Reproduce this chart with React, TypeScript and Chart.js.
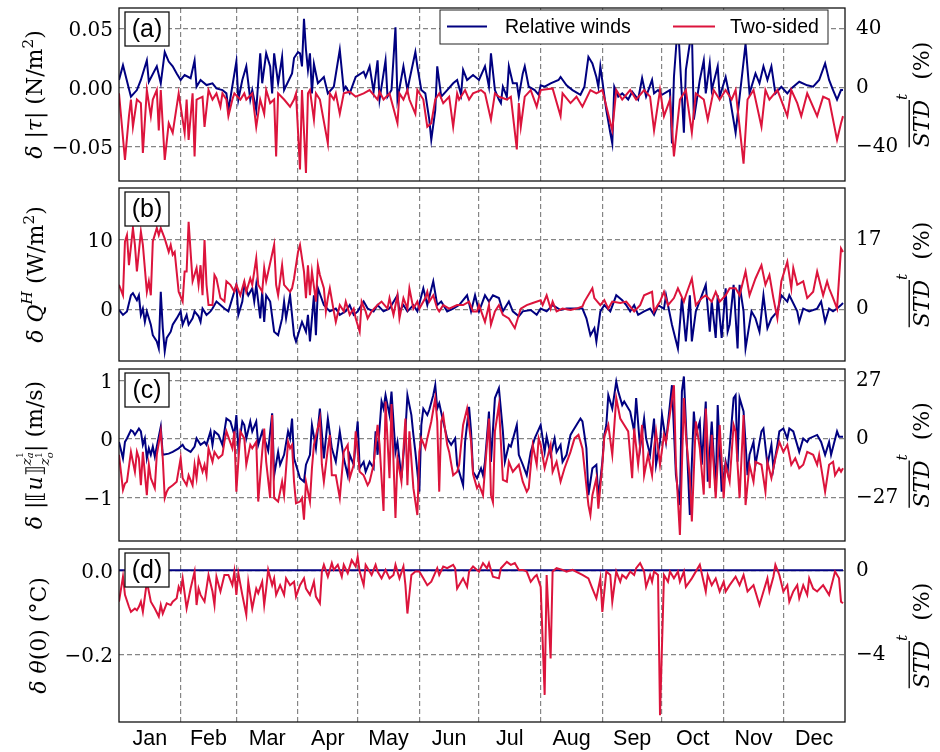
import React, { useEffect, useRef } from 'react';
import { Chart, registerables } from 'chart.js';

Chart.register(...registerables);

// ---------------------------------------------------------------------------
// Calendar axis
// ---------------------------------------------------------------------------
const MONTHS = ['Jan', 'Feb', 'Mar', 'Apr', 'May', 'Jun', 'Jul', 'Aug', 'Sep', 'Oct', 'Nov', 'Dec'];
const MONTH_STARTS = [0, 31, 59, 90, 120, 151, 181, 212, 243, 273, 304, 334, 365];

const SERIES = ['Relative winds', 'Two-sided'];
const COLORS = ['#000080', '#dc143c'];

type Pt = [number, number]; // [day of year, value]

// (a) wind stress magnitude difference, N/m^2
const tauRelative: Pt[] = [
  [0, 0.0065], [2, 0.019], [6, -0.0076], [9, -0.002], [11, 0.0065], [14, 0.023], [15, 0.005], [19, 0.018], [21, 0.0037], [23, 0.03],
  [25, 0.022], [27, 0.018], [29, 0.012], [31, 0.0065], [33, 0.0107], [36, 0.008], [38, 0.023], [39, 0.0008], [41, 0.0065], [44, 0.0022],
  [47, 0.0037], [49, -0.0006], [52, -0.002], [54, -0.0048], [55, -0.019], [59, 0.022], [60, -0.01], [62, 0.0065], [64, 0.018], [66, -0.01],
  [67, -0.002], [69, -0.019], [71, 0.029], [72, 0.0037], [74, 0.029], [76, 0.018], [77, -0.0048], [78, 0.029], [80, 0.0037], [82, 0.026],
  [83, -0.002], [87, 0.012], [88, 0.025], [90, 0.03], [91, 0.029], [92, 0.018], [93, 0.058], [94, 0.032], [95, 0.015], [96, 0.029],
  [97, -0.0048], [98, 0.02], [100, 0.0037], [103, 0.009], [105, -0.0048], [108, 0.0008], [111, 0.032], [113, -0.002], [114, 0.0008], [116, -0.0048],
  [119, 0.009], [123, 0.0135], [124, 0.009], [126, 0.018], [128, -0.0034], [130, 0.023], [131, -0.01], [134, 0.023], [135, -0.0076], [137, -0.002],
  [139, 0.051], [140, -0.01], [143, 0.018], [145, -0.002], [146, 0.0065], [149, 0.03], [150, 0.018], [152, -0.002], [154, -0.0048], [155, -0.016],
  [156, -0.027], [157, -0.044], [159, -0.019], [160, 0.018], [162, -0.0076], [165, -0.002], [168, 0.0037], [170, 0.0065], [172, -0.006], [173, 0.015],
  [175, 0.0065], [178, 0.0107], [181, 0.0065], [184, 0.018], [186, 0.0008], [187, 0.029], [189, -0.002], [191, -0.01], [192, -0.013], [193, 0.0008],
  [195, -0.0076], [196, 0.018], [198, 0.0037], [200, 0.0037], [201, -0.0076], [203, 0.012], [204, 0.018], [206, 0.0008], [209, -0.002], [211, -0.006],
  [212, 0.002], [214, 0.0008], [217, 0.0037], [221, 0.0065], [222, 0.009], [225, 0.002], [228, -0.002], [232, -0.006], [234, 0.0008], [236, 0.026],
  [238, 0.0205], [240, 0.009], [241, 0.0008], [242, 0.018], [245, -0.019], [247, -0.038], [248, -0.047], [249, 0.0008], [251, -0.0076], [253, -0.0048],
  [256, -0.01], [258, -0.0034], [261, -0.01], [263, 0.008], [265, -0.0076], [268, 0.0065], [269, -0.0048], [271, -0.002], [273, -0.006], [277, -0.002],
  [278, -0.047], [279, 0.009], [281, 0.055], [284, -0.038], [285, 0.015], [288, 0.049], [289, -0.027], [292, 0.0065], [294, 0.023], [295, -0.0048],
  [297, 0.0205], [298, -0.002], [301, 0.018], [302, -0.0076], [305, 0.009], [307, -0.0076], [310, -0.038], [315, 0.037], [317, -0.0048], [320, 0.012],
  [322, 0.0037], [324, 0.018], [326, 0.0065], [328, 0.018], [330, -0.0048], [333, 0.0008], [336, -0.0048], [338, -0.0006], [342, 0.005], [346, 0.002],
  [349, 0.0008], [352, 0.0065], [355, 0.0205], [357, 0.0065], [359, -0.002], [361, -0.01], [363, -0.002], [364, -0.002],
];
const tauTwoSided: Pt[] = [
  [0, -0.0048], [3, -0.061], [5, -0.024], [6, -0.01], [7, -0.033], [9, -0.01], [11, -0.013], [12, -0.055], [14, -0.002], [16, -0.024],
  [17, -0.01], [19, -0.002], [20, -0.036], [21, -0.002], [23, -0.061], [25, -0.03], [27, -0.038], [28, -0.027], [30, -0.0048], [31, -0.016],
  [33, -0.038], [34, -0.01], [35, -0.044], [37, -0.0048], [38, -0.058], [39, -0.01], [42, -0.0076], [43, -0.033], [45, -0.002], [47, -0.01],
  [49, -0.0048], [51, -0.016], [52, -0.0048], [54, -0.01], [55, -0.024], [57, -0.01], [58, -0.0048], [61, -0.01], [63, -0.0048], [64, -0.01],
  [67, -0.0048], [69, -0.033], [71, -0.01], [73, -0.022], [74, -0.002], [76, -0.013], [78, -0.01], [79, -0.058], [80, -0.0048], [83, -0.01],
  [86, -0.016], [88, -0.01], [89, -0.0048], [91, -0.069], [92, -0.002], [94, -0.072], [95, -0.0048], [96, -0.002], [98, -0.027], [99, -0.0048],
  [101, -0.01], [105, -0.047], [106, -0.0048], [108, -0.01], [109, -0.0048], [111, -0.022], [113, -0.0048], [116, -0.0034], [119, -0.0076], [123, -0.0048],
  [126, -0.002], [130, -0.01], [131, -0.0034], [133, -0.01], [136, -0.0048], [140, -0.03], [141, -0.0048], [143, -0.01], [145, -0.002], [146, -0.01],
  [149, -0.022], [150, -0.002], [153, -0.01], [155, -0.033], [157, -0.03], [159, -0.01], [161, -0.0048], [163, -0.013], [166, -0.0076], [168, -0.033],
  [170, -0.0048], [171, -0.01], [174, -0.002], [176, -0.01], [178, -0.0048], [182, -0.002], [184, -0.0048], [187, -0.027], [189, -0.0048], [191, -0.0076],
  [195, -0.01], [197, -0.0076], [200, -0.052], [201, -0.013], [202, -0.033], [204, -0.0076], [207, -0.002], [210, -0.016], [212, -0.002], [218, -0.0006],
  [222, -0.024], [223, -0.0048], [227, -0.013], [230, -0.0076], [233, -0.016], [237, -0.002], [240, -0.0048], [243, -0.002], [248, -0.036], [250, -0.002],
  [253, -0.01], [257, -0.002], [260, -0.01], [264, -0.002], [267, -0.0076], [269, -0.036], [272, -0.002], [274, -0.024], [277, -0.01], [279, -0.058],
  [282, -0.01], [285, -0.002], [288, -0.038], [290, -0.0048], [294, -0.01], [296, -0.027], [299, -0.002], [302, -0.01], [305, -0.002], [308, -0.01],
  [310, -0.002], [314, -0.064], [316, -0.01], [319, -0.002], [323, -0.033], [325, -0.002], [327, -0.01], [331, -0.002], [336, -0.024], [338, -0.002],
  [341, -0.013], [343, -0.024], [346, -0.0048], [351, -0.024], [354, -0.0076], [357, -0.01], [361, -0.044], [363, -0.03], [364, -0.024],
];

// (b) sensible heat flux difference, W/m^2
const heatRelative: Pt[] = [
  [0, -0.1], [2, -0.8], [4, -0.3], [6, 2.0], [7, 2.3], [9, 1.3], [10, 2.0], [11, -0.8], [12, 0.1], [13, -1.8],
  [14, -0.3], [16, -2.2], [17, -3.7], [19, -4.6], [20, -5.6], [21, 2.5], [22, -2.7], [23, -6.0], [24, -4.1], [26, -3.2],
  [27, -2.2], [29, -1.3], [31, -0.3], [32, -2.2], [34, -0.8], [35, -2.2], [37, -1.3], [38, -0.3], [40, -1.0], [41, -1.8],
  [42, 0.1], [44, -0.8], [46, -0.3], [47, 0.1], [49, 1.1], [51, 0.6], [53, 0.1], [55, -0.3], [59, 3.5], [60, -0.8],
  [62, 1.1], [63, 3.5], [65, 2.0], [67, 3.0], [68, 1.1], [69, 3.5], [71, -1.3], [72, 2.5], [73, -1.8], [74, 2.0],
  [76, 1.1], [78, -3.2], [80, -3.7], [82, -1.3], [83, 1.1], [84, -1.3], [86, 2.0], [88, -3.7], [89, -4.6], [91, -2.7],
  [92, -1.8], [94, -3.2], [95, -0.8], [96, -4.6], [98, 2.0], [99, -3.7], [100, 3.0], [103, 0.6], [106, -0.3], [109, 0.1],
  [111, -0.8], [114, -0.3], [116, 0.6], [118, -0.8], [120, -0.3], [123, 1.1], [125, 0.1], [128, -0.3], [130, 0.6], [133, -0.3],
  [136, 0.1], [140, 2.0], [141, -0.3], [143, 0.6], [145, -0.3], [148, 0.6], [150, -0.3], [153, 3.0], [155, 0.6], [158, 4.0],
  [160, 0.6], [162, 1.1], [165, -0.3], [168, 0.1], [171, 0.6], [175, 2.0], [177, -0.3], [179, 2.0], [181, -0.3], [184, 2.0],
  [186, 1.1], [188, 2.0], [191, 1.6], [193, -0.3], [196, 1.1], [198, -0.3], [201, -1.0], [203, -0.3], [207, -0.1], [210, -0.8],
  [212, 0.1], [215, -0.3], [218, 0.6], [222, -0.1], [225, 0.1], [230, 0.1], [233, 0.1], [235, -1.3], [237, -3.7], [239, -2.7],
  [240, -4.6], [242, -0.3], [244, 0.6], [247, -0.3], [250, 2.0], [253, 1.3], [255, 0.6], [257, -0.3], [259, 0.6], [261, -0.8],
  [264, -0.3], [267, 0.1], [269, -0.8], [271, 0.6], [274, 0.1], [275, 2.0], [278, -2.2], [281, -5.6], [283, 1.6], [285, -4.6],
  [287, 2.0], [288, -4.6], [290, -0.3], [295, 3.5], [297, -3.2], [298, 1.1], [300, -4.1], [301, 2.0], [303, -4.1], [305, 3.0],
  [306, -3.2], [307, -2.2], [309, 3.5], [311, -5.6], [312, 3.5], [314, -0.3], [315, -5.6], [318, -0.3], [320, -1.3], [322, -3.2],
  [324, 2.0], [326, -2.7], [328, -1.3], [331, -0.3], [333, 2.0], [336, 1.1], [337, 2.0], [341, -0.3], [342, -1.8], [344, 0.1],
  [347, -0.3], [351, 0.1], [353, 1.1], [355, -1.8], [357, 0.1], [359, -0.3], [361, 0.1], [363, 0.6], [364, 0.9],
];
const heatTwoSided: Pt[] = [
  [0, 3.5], [2, 2.0], [3, 9.7], [4, 10.6], [5, 6.3], [7, 11.6], [8, 9.2], [9, 5.4], [11, 11.1], [12, 9.2],
  [14, 2.5], [15, 4.0], [16, 2.0], [17, 9.7], [19, 11.6], [20, 10.6], [21, 11.6], [23, 10.1], [25, 8.2], [26, 9.2],
  [27, 7.8], [28, 8.2], [30, 2.5], [32, 1.1], [33, 5.4], [34, 5.4], [35, 12.5], [36, 8.2], [37, 4.0], [39, 5.9],
  [40, 3.5], [41, 6.3], [42, 2.0], [43, 9.9], [44, 3.5], [45, 0.6], [47, 0.6], [48, 4.9], [49, 4.4], [51, 1.6],
  [53, 1.1], [54, 4.0], [56, 3.5], [58, 2.5], [59, 3.5], [61, 2.0], [63, 4.0], [64, 2.5], [66, 4.4], [67, 3.5],
  [69, 7.3], [70, 3.5], [72, 2.5], [73, 5.9], [74, 4.0], [78, 9.2], [79, 3.5], [80, 2.0], [82, 6.3], [83, 3.5],
  [86, 2.5], [87, 3.0], [88, 4.4], [90, 8.2], [91, 9.2], [93, 5.4], [94, 1.6], [95, 6.3], [96, 2.0], [97, 5.4],
  [99, 1.1], [100, 6.3], [101, 4.9], [103, 3.0], [104, -0.3], [105, 1.6], [106, 3.0], [108, -0.3], [109, -1.8], [111, 0.6],
  [113, -0.3], [114, 1.1], [116, -0.8], [118, 0.1], [119, -1.3], [121, -3.2], [122, 1.1], [124, -0.3], [125, -1.3], [127, -0.3],
  [130, 0.6], [132, 1.1], [135, 0.1], [136, 1.6], [138, -0.8], [140, 2.0], [141, -1.3], [143, 1.6], [145, 0.1], [146, 3.0],
  [148, 0.1], [150, 1.1], [151, 0.1], [154, 1.6], [155, 2.5], [156, 1.1], [158, 2.0], [160, 0.1], [161, -0.3], [163, 0.6],
  [166, 0.1], [170, 0.6], [173, 0.6], [176, 1.1], [178, -0.3], [180, -0.3], [181, 0.6], [184, -1.8], [186, 0.6], [187, -2.2],
  [189, -0.3], [191, 0.6], [193, -0.8], [196, -1.3], [199, -2.7], [202, 0.1], [205, 0.6], [208, 0.9], [212, 1.3], [213, 0.6],
  [215, 2.0], [217, 0.1], [218, 1.1], [220, -0.3], [223, 0.1], [227, -0.1], [230, 0.1], [233, 0.4], [234, 1.1], [238, 3.0],
  [239, 1.6], [242, 0.6], [244, 1.3], [246, 0.1], [248, 1.1], [252, 0.9], [255, 1.1], [259, -0.3], [262, 0.6], [264, 2.0],
  [268, 2.5], [269, -0.3], [272, 1.1], [274, 2.5], [276, 0.6], [279, 1.6], [281, 3.0], [284, 1.1], [285, 2.0], [288, 4.4],
  [290, 0.6], [293, 1.6], [295, 2.0], [298, 1.1], [300, 2.5], [302, 1.1], [305, 2.0], [307, 3.0], [310, 3.0], [312, 2.0],
  [315, 5.4], [317, 2.0], [320, 4.4], [323, 6.3], [325, 3.5], [327, 4.9], [329, 1.6], [331, -1.3], [333, 4.0], [336, 6.8],
  [338, 3.0], [339, 5.9], [341, 3.5], [344, 4.0], [346, 1.6], [349, 2.5], [351, 5.4], [354, 2.0], [356, 4.0], [357, 3.0],
  [359, 1.6], [361, 0.1], [363, 8.7], [364, 8.2],
];

// (c) wind shear across the interface, m/s
const shearRelative: Pt[] = [
  [0, -0.05], [2, -0.33], [3, -0.05], [4, 0.01], [6, 0.15], [7, 0.13], [8, 0.07], [10, 0.18], [11, 0.13], [12, -0.1],
  [13, 0.01], [14, -0.33], [15, -0.16], [16, -0.27], [17, -0.13], [18, -0.3], [21, 0.21], [22, -0.27], [25, -0.25], [27, -0.22],
  [30, -0.16], [32, -0.1], [33, -0.16], [36, -0.22], [38, -0.13], [39, 0.01], [41, -0.1], [43, -0.05], [44, -0.1], [46, 0.13],
  [47, -0.1], [48, 0.13], [50, 0.07], [52, -0.1], [53, 0.13], [54, 0.35], [56, 0.3], [58, 0.07], [59, 0.41], [60, -0.16],
  [62, 0.3], [63, 0.24], [64, 0.01], [66, 0.3], [67, 0.13], [69, 0.3], [70, -0.1], [72, 0.13], [75, -0.2], [77, 0.44],
  [78, -0.62], [80, -0.22], [81, -0.44], [83, -0.27], [85, 0.13], [86, 0.01], [87, 0.35], [88, -0.33], [91, -0.67], [93, -0.73],
  [94, -0.44], [96, -0.27], [97, 0.24], [99, -0.16], [101, 0.52], [103, -0.33], [105, 0.35], [107, -0.16], [109, -0.39], [111, 0.13],
  [113, -0.33], [115, -0.62], [116, -0.27], [118, -0.44], [119, -0.05], [120, 0.3], [121, -0.5], [123, -0.39], [124, -0.56], [126, -0.39],
  [128, -0.5], [129, 0.13], [130, -0.27], [132, 0.64], [133, 0.52], [134, 0.75], [136, 0.41], [137, 0.81], [139, -0.22], [140, -0.05],
  [142, -0.67], [144, 0.13], [145, 0.75], [147, 0.41], [148, 0.07], [149, -0.22], [151, -0.9], [152, 0.24], [153, 0.52], [155, 0.41],
  [156, 0.5], [158, 0.75], [159, 0.92], [160, 0.52], [161, 0.61], [163, 0.3], [165, 0.01], [167, -0.1], [169, 0.01], [170, -0.44],
  [173, -0.79], [174, -0.05], [176, 0.55], [177, 0.13], [178, -0.56], [180, -0.67], [182, -0.5], [183, -0.62], [184, -0.39], [186, 0.47],
  [187, -0.39], [189, 0.7], [191, 0.87], [193, 0.13], [194, -0.39], [196, -0.1], [197, -0.13], [200, 0.24], [201, -0.27], [203, -0.44],
  [205, -0.62], [207, -0.22], [209, 0.01], [212, 0.24], [214, -0.22], [215, 0.04], [217, -0.27], [219, 0.01], [220, -0.22], [222, -0.1],
  [223, -0.39], [225, -0.27], [227, 0.07], [228, 0.13], [232, 0.35], [233, 0.3], [235, -0.16], [236, -0.96], [238, -0.5], [240, -0.44],
  [241, -1.01], [243, -0.39], [244, 0.07], [245, 0.24], [246, 0.75], [248, 0.52], [250, 0.98], [251, 0.81], [253, 0.58], [254, 0.64],
  [257, 0.47], [259, 0.13], [260, 0.7], [262, -0.16], [264, 0.35], [265, 0.01], [267, -0.27], [269, 0.35], [270, -0.44], [272, -0.05],
  [273, 0.41], [275, -0.05], [278, 0.92], [280, -0.62], [282, -1.13], [283, 0.81], [284, 1.07], [287, -1.3], [289, 0.47], [290, 0.07],
  [292, 0.3], [293, -0.44], [295, 0.64], [296, -0.73], [298, 0.3], [300, -0.9], [301, 0.58], [303, -0.9], [305, -0.39], [306, -0.56],
  [309, 0.7], [310, 0.75], [311, -0.39], [312, 0.7], [314, 0.47], [316, -0.62], [317, -0.27], [319, -0.05], [320, -0.44], [323, 0.13],
  [324, 0.18], [326, -0.44], [328, -0.1], [329, -0.5], [331, -0.1], [332, 0.13], [334, 0.18], [336, 0.01], [337, 0.18], [339, 0.13],
  [342, -0.22], [344, 0.01], [346, -0.05], [347, 0.01], [351, 0.07], [353, -0.05], [355, -0.27], [357, -0.05], [358, -0.27], [361, 0.13],
  [362, 0.04], [364, 0.04],
];
const shearTwoSided: Pt[] = [
  [0, -0.27], [2, -0.87], [3, -0.76], [4, -0.73], [6, -0.22], [7, -0.39], [8, -0.56], [9, -0.22], [10, -0.33], [11, -0.79],
  [12, -0.22], [14, -0.96], [15, -0.44], [16, -0.67], [18, -0.84], [19, -0.27], [21, 0.13], [22, -0.33], [23, -1.01], [24, -0.9],
  [25, -0.84], [27, -0.79], [29, -0.73], [31, -0.33], [32, -0.67], [34, -0.79], [35, -0.62], [37, -0.79], [38, -0.44], [39, -0.67],
  [40, -0.33], [42, -0.56], [43, -0.44], [44, -0.62], [45, -0.16], [47, -0.39], [48, -0.22], [50, -0.33], [52, -0.27], [53, -0.05],
  [54, 0.13], [57, -0.16], [58, 0.13], [59, -0.9], [61, 0.13], [63, 0.01], [64, -0.44], [66, -0.1], [67, -0.16], [69, -0.05],
  [70, -1.07], [72, -0.22], [73, 0.18], [74, -0.39], [76, -1.01], [77, 0.41], [78, -1.01], [80, -1.07], [82, -0.73], [83, -0.96],
  [85, -0.05], [86, -0.16], [87, -0.1], [88, -0.73], [89, -1.1], [91, -1.07], [92, -1.01], [93, -1.38], [94, -0.73], [96, -1.07],
  [97, -0.5], [98, -0.1], [101, 0.35], [102, -0.44], [103, -0.73], [105, -0.16], [106, 0.07], [107, -0.62], [109, -0.62], [111, -1.01],
  [113, -0.22], [115, -0.1], [116, -0.67], [118, -0.44], [119, 0.13], [121, -0.56], [123, -0.62], [125, -0.79], [126, -0.73], [128, -0.44],
  [130, 0.24], [131, -0.1], [133, -1.23], [134, 0.64], [136, -0.67], [137, 0.6], [139, -1.35], [140, -0.33], [142, -0.73], [144, 0.35],
  [145, -0.79], [146, 0.13], [148, -0.84], [150, -1.3], [151, -0.22], [152, 0.01], [154, -0.16], [155, 0.01], [157, 0.3], [159, 0.7],
  [160, 0.3], [161, -0.9], [162, 0.3], [163, 0.41], [165, -0.1], [166, -0.22], [168, -0.62], [170, -0.56], [171, -0.44], [173, 0.24],
  [175, 0.52], [177, -0.05], [178, -0.6], [180, -0.84], [181, -0.78], [183, -0.96], [186, 0.35], [187, -0.96], [188, -1.08], [189, 0.13],
  [191, 0.58], [193, -0.7], [195, -0.73], [196, -0.39], [198, -0.56], [201, -0.44], [203, -0.73], [205, -0.9], [206, -0.84], [208, -0.1],
  [210, -0.44], [211, 0.01], [212, -0.1], [214, -0.5], [217, -0.1], [218, -0.56], [220, -0.39], [222, -0.73], [224, -0.5], [227, -0.22],
  [229, 0.01], [231, 0.07], [233, -0.16], [236, -1.13], [237, -1.3], [238, -0.96], [240, -0.67], [241, -1.19], [243, -0.44], [244, 0.04],
  [246, 0.24], [248, -0.27], [250, 0.7], [252, 0.35], [254, 0.24], [256, 0.13], [258, -0.67], [259, 0.18], [261, -0.44], [263, 0.24],
  [264, -0.62], [266, -0.27], [268, -0.62], [269, -0.16], [270, 0.13], [272, -0.44], [274, 0.07], [275, -0.05], [279, 0.92], [280, -0.44],
  [282, -1.64], [284, 0.7], [285, 0.07], [287, -0.67], [288, -1.41], [290, 0.3], [292, -0.16], [294, -0.95], [295, 0.52], [297, -0.84],
  [298, 0.07], [300, -1.01], [302, 0.24], [304, -1.01], [305, -0.44], [307, -0.73], [309, 0.24], [310, 0.13], [312, -1.01], [314, 0.41],
  [315, -1.13], [317, -0.44], [319, -0.73], [320, -0.39], [323, -0.44], [325, -0.9], [326, -0.39], [328, -0.67], [330, -0.33], [332, -0.05],
  [334, -0.22], [336, -0.1], [338, -0.44], [340, -0.33], [342, -0.5], [344, -0.44], [346, -0.22], [349, -0.27], [351, -0.44], [352, -0.27],
  [355, -0.9], [357, -0.44], [359, -0.39], [360, -0.62], [362, -0.5], [363, -0.56], [364, -0.5],
];

// (d) skin temperature difference, degC
const sstRelative: Pt[] = [[0, 0], [364, 0]];
const sstTwoSided: Pt[] = [
  [0, -0.074], [2, -0.015], [3, -0.058], [5, -0.086], [6, -0.098], [8, -0.09], [9, -0.094], [10, -0.086], [11, -0.074], [12, -0.098],
  [14, -0.027], [15, -0.05], [16, -0.074], [18, -0.09], [20, -0.109], [21, -0.082], [22, -0.102], [24, -0.078], [26, -0.082], [27, -0.074],
  [29, -0.066], [30, -0.039], [31, -0.05], [32, -0.019], [34, -0.09], [36, -0.043], [38, -0.003], [39, -0.082], [40, -0.043], [41, -0.058],
  [43, -0.074], [45, -0.011], [47, -0.05], [48, -0.082], [49, -0.015], [51, -0.05], [53, -0.011], [55, -0.011], [57, -0.035], [58, -0.003],
  [59, -0.058], [60, -0.007], [62, -0.058], [64, -0.105], [65, -0.027], [67, -0.09], [69, -0.043], [70, -0.054], [72, -0.027], [73, -0.082],
  [74, -0.043], [75, 0.001], [77, -0.035], [78, -0.019], [79, -0.058], [81, -0.035], [83, -0.058], [84, -0.019], [86, -0.035], [88, -0.027],
  [89, -0.062], [91, -0.035], [93, -0.019], [94, -0.043], [96, -0.058], [98, -0.027], [99, -0.062], [101, -0.078], [102, -0.003], [103, 0.013],
  [105, -0.015], [107, 0.017], [108, 0.001], [110, 0.013], [112, -0.015], [113, 0.013], [115, -0.007], [117, 0.024], [119, 0.009], [120, 0.032],
  [121, -0.003], [123, -0.035], [124, 0.013], [127, -0.011], [129, 0.013], [130, -0.003], [132, -0.019], [134, 0.001], [136, -0.019], [138, -0.011],
  [139, 0.013], [141, -0.019], [143, 0.009], [144, -0.035], [145, -0.102], [147, -0.011], [149, -0.003], [151, -0.003], [153, -0.019], [155, -0.035],
  [157, -0.027], [160, 0.005], [161, -0.011], [163, 0.009], [165, 0.005], [168, 0.013], [169, 0.005], [170, -0.043], [173, -0.019], [175, -0.039],
  [176, -0.003], [178, 0.009], [180, 0.001], [181, -0.003], [183, 0.017], [185, 0.005], [186, 0.017], [188, -0.015], [191, -0.019], [192, 0.005],
  [195, 0.02], [197, 0.013], [199, 0.017], [201, 0.001], [203, 0.001], [205, -0.003], [207, -0.027], [209, -0.015], [210, -0.011], [212, -0.039],
  [214, -0.294], [215, -0.011], [217, -0.208], [218, -0.003], [220, 0.005], [223, 0.001], [225, -0.003], [228, 0.001], [233, -0.011], [236, -0.019],
  [238, -0.043], [240, -0.066], [242, -0.019], [243, -0.098], [245, -0.003], [247, -0.011], [248, -0.074], [250, -0.003], [252, -0.027], [253, -0.011],
  [255, -0.019], [257, -0.003], [259, -0.011], [260, 0.005], [262, 0.017], [264, -0.003], [265, -0.039], [267, -0.011], [268, -0.027], [269, -0.003],
  [271, -0.011], [272, -0.342], [274, -0.011], [276, -0.027], [277, -0.003], [279, -0.019], [281, -0.003], [282, -0.027], [284, -0.003], [285, -0.039],
  [288, -0.019], [292, 0.013], [295, -0.05], [296, -0.011], [298, -0.035], [300, -0.019], [302, -0.05], [304, -0.027], [305, -0.05], [307, -0.035],
  [310, -0.015], [312, -0.035], [314, -0.011], [316, -0.05], [319, -0.035], [322, -0.082], [324, -0.05], [326, -0.019], [327, -0.05], [329, -0.015],
  [330, 0.013], [332, -0.011], [334, -0.05], [336, -0.035], [337, -0.074], [339, -0.05], [341, -0.035], [342, -0.066], [344, -0.035], [346, -0.058],
  [347, -0.019], [349, -0.043], [351, -0.05], [354, -0.035], [357, -0.058], [360, -0.003], [362, -0.019], [363, -0.074], [364, -0.078],
];

// Tick values: left axis in physical units, right axis in % of the temporal STD
const TAU_TICKS = [-0.05, 0, 0.05];
const TAU_PCT_TICKS = [-40, 0, 40];
const HEAT_TICKS = [0, 10];
const HEAT_PCT_TICKS = [0, 17];
const SHEAR_TICKS = [-1, 0, 1];
const SHEAR_PCT_TICKS = [-27, 0, 27];
const SST_TICKS = [-0.2, 0];
const SST_PCT_TICKS = [-4, 0];

// ---------------------------------------------------------------------------
// Rotated rich-text labels (sub/superscripts, overline)
// ---------------------------------------------------------------------------
type Seg = {
  t?: string; it?: boolean; s?: number; dy?: number; over?: boolean;
  mark?: boolean; reset?: boolean; end?: boolean;
};

const SERIF = '"DejaVu Serif", serif';
const SANS = '"Liberation Sans", Arial, sans-serif';

function drawRotatedRich(ctx: CanvasRenderingContext2D, segs: Seg[], bx: number, cy: number, size: number) {
  const placed: { t: string; x: number; w: number; font: string; px: number; dy: number; over?: boolean }[] = [];
  const stack: { x0: number; xMax: number }[] = [];
  let x = 0;
  for (const g of segs) {
    if (g.mark) { stack.push({ x0: x, xMax: x }); continue; }
    if (g.reset) { const top = stack[stack.length - 1]; top.xMax = Math.max(top.xMax, x); x = top.x0; continue; }
    if (g.end) { const top = stack.pop()!; x = Math.max(x, top.xMax); continue; }
    const px = size * (g.s ?? 1);
    const font = `${g.it ? 'italic ' : ''}${px}px ${SERIF}`;
    ctx.font = font;
    const w = ctx.measureText(g.t!).width;
    placed.push({ t: g.t!, x, w, font, px, dy: (g.dy ?? 0) * size, over: g.over });
    x += w;
  }
  const start = -x / 2;
  ctx.save();
  ctx.translate(bx, cy);
  ctx.rotate(-Math.PI / 2);
  ctx.fillStyle = '#000';
  ctx.strokeStyle = '#000';
  ctx.textAlign = 'left';
  ctx.textBaseline = 'alphabetic';
  for (const p of placed) {
    ctx.font = p.font;
    ctx.fillText(p.t, start + p.x, p.dy);
    if (p.over) {
      ctx.lineWidth = 1.3;
      ctx.beginPath();
      ctx.moveTo(start + p.x, p.dy - p.px * 0.9);
      ctx.lineTo(start + p.x + p.w, p.dy - p.px * 0.9);
      ctx.stroke();
    }
  }
  ctx.restore();
}

const STD_TITLE: Seg[] = [
  { t: 'STD', it: true, over: true },
  { t: 't', it: true, s: 0.7, dy: -0.98 },
  { t: '  (%)' },
];

// ---------------------------------------------------------------------------
// Panels
// ---------------------------------------------------------------------------
const minus = (v: number, digits: number) => (v < 0 ? '\u2212' : '') + Math.abs(v).toFixed(digits);

interface PanelSpec {
  tag: string;
  canvasTop: number;
  canvasH: number;
  padTop: number;
  padBottom: number;
  yMin: number;
  yMax: number;
  ticks: number[];
  pctTicks: number[];
  digits: number;
  relative: Pt[];
  twoSided: Pt[];
  title: Seg[];
  titleX: number;
  legend?: boolean;
  months?: boolean;
}

const PLOT_LEFT = 119;
const PLOT_RIGHT = 845;
const WIDTH = 940;

const PANELS: PanelSpec[] = [
  {
    tag: '(a)', canvasTop: 4, canvasH: 181, padTop: 4, padBottom: 4,
    yMin: -0.0787, yMax: 0.0672, ticks: TAU_TICKS, pctTicks: TAU_PCT_TICKS, digits: 2,
    relative: tauRelative, twoSided: tauTwoSided, legend: true, titleX: 42,
    title: [{ t: 'δ', it: true }, { t: ' |' }, { t: 'τ', it: true }, { t: '| (N/m' }, { t: '2', s: 0.7, dy: -0.42 }, { t: ')' }],
  },
  {
    tag: '(b)', canvasTop: 184, canvasH: 181, padTop: 4, padBottom: 4,
    yMin: -7.39, yMax: 17.33, ticks: HEAT_TICKS, pctTicks: HEAT_PCT_TICKS, digits: 0,
    relative: heatRelative, twoSided: heatTwoSided, titleX: 43,
    title: [{ t: 'δ', it: true }, { t: ' ' }, { t: 'Q', it: true }, { t: 'H', it: true, s: 0.7, dy: -0.48 }, { t: ' (W/m' }, { t: '2', s: 0.7, dy: -0.42 }, { t: ')' }],
  },
  {
    tag: '(c)', canvasTop: 365, canvasH: 180, padTop: 4, padBottom: 4,
    yMin: -1.744, yMax: 1.197, ticks: SHEAR_TICKS, pctTicks: SHEAR_PCT_TICKS, digits: 0,
    relative: shearRelative, twoSided: shearTwoSided, titleX: 42,
    title: [
      { t: 'δ', it: true }, { t: ' |⟦' }, { t: 'u', it: true }, { t: '⟧' },
      { mark: true },
      { t: 'z', it: true, s: 0.62, dy: -0.52 }, { mark: true }, { t: '1', s: 0.45, dy: -0.85 }, { reset: true }, { t: 'a', it: true, s: 0.45, dy: -0.42 }, { end: true },
      { reset: true },
      { t: 'z', it: true, s: 0.62, dy: 0.3 }, { mark: true }, { t: '1', s: 0.45, dy: 0.02 }, { reset: true }, { t: 'o', it: true, s: 0.45, dy: 0.48 }, { end: true },
      { end: true },
      { t: '| (m/s)' },
    ],
  },
  {
    tag: '(d)', canvasTop: 545, canvasH: 207, padTop: 4, padBottom: 0,
    yMin: -0.358, yMax: 0.0503, ticks: SST_TICKS, pctTicks: SST_PCT_TICKS, digits: 1,
    relative: sstRelative, twoSided: sstTwoSided, months: true, titleX: 46,
    title: [{ t: 'δ', it: true }, { t: ' ' }, { t: 'θ', it: true }, { t: '(0) (°C)' }],
  },
];

const decorPlugin = {
  id: 'decor',
  afterDatasetsDraw(chart: any, _args: any, opts: any) {
    const ctx: CanvasRenderingContext2D = chart.ctx;
    const a = chart.chartArea;
    ctx.save();
    ctx.setLineDash([]);
    // frame
    ctx.strokeStyle = '#111';
    ctx.lineWidth = 1.3;
    ctx.strokeRect(a.left, a.top, a.right - a.left, a.bottom - a.top);
    // panel tag
    const bx = a.left + 6, by = a.top + 4, bw = 44, bh = 34;
    ctx.fillStyle = '#fff';
    ctx.fillRect(bx, by, bw, bh);
    ctx.strokeRect(bx, by, bw, bh);
    ctx.fillStyle = '#000';
    ctx.font = `25px ${SANS}`;
    ctx.textAlign = 'center';
    ctx.textBaseline = 'middle';
    ctx.fillText(opts.tag, bx + bw / 2, by + bh / 2 + 1);
    // legend
    if (opts.legend) {
      const lx = a.right - 405, ly = a.top + 2, lw = 388, lh = 34;
      ctx.fillStyle = '#fff';
      ctx.fillRect(lx, ly, lw, lh);
      ctx.strokeStyle = '#222';
      ctx.lineWidth = 1;
      ctx.strokeRect(lx, ly, lw, lh);
      const cy = ly + lh / 2 - 0.5;
      const entries = [
        { x0: lx + 7, x1: lx + 47, tx: lx + 65, label: SERIES[0], color: COLORS[0] },
        { x0: lx + 233, x1: lx + 275, tx: lx + 290, label: SERIES[1], color: COLORS[1] },
      ];
      ctx.font = `19.5px ${SANS}`;
      ctx.textAlign = 'left';
      ctx.textBaseline = 'middle';
      for (const e of entries) {
        ctx.strokeStyle = e.color;
        ctx.lineWidth = 2;
        ctx.beginPath();
        ctx.moveTo(e.x0, cy);
        ctx.lineTo(e.x1, cy);
        ctx.stroke();
        ctx.fillStyle = '#000';
        ctx.fillText(e.label, e.tx, cy + 1);
      }
    }
    ctx.restore();
  },
  afterDraw(chart: any, _args: any, opts: any) {
    const ctx: CanvasRenderingContext2D = chart.ctx;
    const a = chart.chartArea;
    const cy = (a.top + a.bottom) / 2;
    drawRotatedRich(ctx, opts.title, opts.titleX, cy, 22);
    drawRotatedRich(ctx, STD_TITLE, 929, cy, 22);
  },
};

function fixedTicks(values: number[]) {
  return (scale: any) => {
    scale.ticks = values.map((v) => ({ value: v }));
  };
}

// Scales are sized by hand so the four plot areas line up exactly.
function sized(w: number | null, h: number | null) {
  return (s: any) => {
    if (w !== null) s.width = w;
    if (h !== null) s.height = h;
    s.paddingTop = 0;
    s.paddingBottom = 0;
    s.paddingLeft = 0;
    s.paddingRight = 0;
  };
}

function buildConfig(p: PanelSpec): any {
  const gridColor = '#858585';
  const pctPerUnit = p.pctTicks.find((v) => v !== 0)! / p.ticks.find((v) => v !== 0)!;
  const monthBounds = MONTH_STARTS.slice(1, -1);
  const scales: any = {
    x: {
      type: 'linear', position: 'bottom', min: 0, max: 365,
      afterBuildTicks: fixedTicks(monthBounds),
      afterFit: sized(null, 0),
      ticks: { display: false },
      grid: { color: gridColor, lineWidth: 1.2, drawTicks: false },
      border: { display: false, dash: [5, 3] },
    },
    y: {
      type: 'linear', position: 'left', min: p.yMin, max: p.yMax,
      afterBuildTicks: fixedTicks(p.ticks),
      afterFit: sized(PLOT_LEFT, null),
      ticks: {
        callback: (v: number) => minus(v, p.digits),
        font: { family: SERIF, size: 20 }, color: '#000', padding: 6, labelOffset: 2,
      },
      grid: { color: gridColor, lineWidth: 1.2, drawTicks: false },
      border: { display: false, dash: [5, 3] },
    },
    y2: {
      type: 'linear', position: 'right', min: p.yMin * pctPerUnit, max: p.yMax * pctPerUnit,
      afterBuildTicks: fixedTicks(p.pctTicks),
      afterFit: sized(WIDTH - PLOT_RIGHT, null),
      ticks: {
        callback: (v: number) => minus(v, 0),
        font: { family: SERIF, size: 20 }, color: '#000', padding: 11,
      },
      grid: { display: false, drawTicks: false },
      border: { display: false },
    },
  };
  if (p.months) {
    scales.months = {
      type: 'linear', position: 'bottom', min: 0, max: 365,
      afterBuildTicks: fixedTicks(MONTHS.map((_, i) => (MONTH_STARTS[i] + MONTH_STARTS[i + 1]) / 2)),
      afterFit: sized(null, 30),
      ticks: {
        callback: (_v: number, i: number) => MONTHS[i],
        font: { family: SANS, size: 21.5 }, color: '#000', padding: 4,
        autoSkip: false, maxRotation: 0, minRotation: 0,
      },
      grid: { display: false, drawTicks: false },
      border: { display: false },
    };
  }
  const toXY = (pts: Pt[]) => pts.map(([x, y]) => ({ x, y }));
  return {
    type: 'line',
    data: {
      datasets: [
        {
          label: SERIES[1], data: toXY(p.twoSided), borderColor: COLORS[1], borderWidth: 2,
          pointRadius: 0, tension: 0, order: 0, xAxisID: 'x', yAxisID: 'y',
        },
        {
          label: SERIES[0], data: toXY(p.relative), borderColor: COLORS[0], borderWidth: 2,
          pointRadius: 0, tension: 0, order: 1, xAxisID: 'x', yAxisID: 'y',
        },
      ],
    },
    options: {
      animation: false,
      responsive: false,
      maintainAspectRatio: false,
      devicePixelRatio: 1,
      events: [],
      layout: { padding: { top: p.padTop, bottom: p.padBottom, left: 0, right: 0 } },
      scales,
      plugins: {
        legend: { display: false },
        tooltip: { enabled: false },
        decor: { tag: p.tag, legend: !!p.legend, title: p.title, titleX: p.titleX },
      },
    },
    plugins: [decorPlugin],
  };
}

function Panel({ spec }: { spec: PanelSpec }) {
  const ref = useRef<HTMLCanvasElement>(null);
  useEffect(() => {
    if (!ref.current) return;
    const chart = new Chart(ref.current, buildConfig(spec));
    return () => chart.destroy();
  }, [spec]);
  return (
    <canvas
      ref={ref}
      width={WIDTH}
      height={spec.canvasH}
      style={{ position: 'absolute', left: 0, top: spec.canvasTop, width: WIDTH, height: spec.canvasH }}
    />
  );
}

export default function App() {
  return (
    <div style={{ position: 'fixed', left: 0, top: 0, width: WIDTH, height: 752, background: '#fff', overflow: 'hidden' }}>
      {PANELS.map((p) => (
        <Panel key={p.tag} spec={p} />
      ))}
    </div>
  );
}
